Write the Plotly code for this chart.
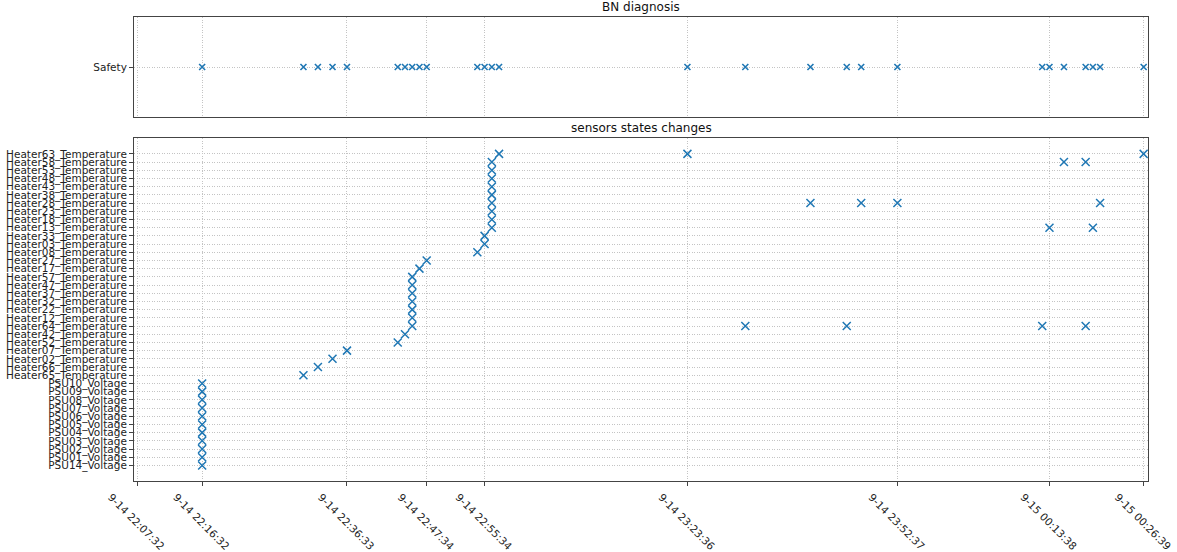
import plotly.graph_objects as go
from plotly.subplots import make_subplots

# ---------------- data ----------------
categories = [
    "PSU14_Voltage", "PSU01_Voltage", "PSU02_Voltage", "PSU03_Voltage", "PSU04_Voltage",
    "PSU05_Voltage", "PSU06_Voltage", "PSU07_Voltage", "PSU08_Voltage", "PSU09_Voltage",
    "PSU10_Voltage", "Heater65_Temperature", "Heater66_Temperature", "Heater02_Temperature",
    "Heater07_Temperature", "Heater52_Temperature", "Heater42_Temperature", "Heater64_Temperature",
    "Heater12_Temperature", "Heater22_Temperature", "Heater32_Temperature", "Heater37_Temperature",
    "Heater47_Temperature", "Heater57_Temperature", "Heater17_Temperature", "Heater27_Temperature",
    "Heater08_Temperature", "Heater03_Temperature", "Heater33_Temperature", "Heater13_Temperature",
    "Heater18_Temperature", "Heater23_Temperature", "Heater28_Temperature", "Heater38_Temperature",
    "Heater43_Temperature", "Heater48_Temperature", "Heater53_Temperature", "Heater58_Temperature",
    "Heater63_Temperature",
]

event_sensor = [
    "PSU14_Voltage", "PSU01_Voltage", "PSU02_Voltage", "PSU03_Voltage", "PSU04_Voltage",
    "PSU05_Voltage", "PSU06_Voltage", "PSU07_Voltage", "PSU08_Voltage", "PSU09_Voltage",
    "PSU10_Voltage",
    "Heater65_Temperature", "Heater66_Temperature", "Heater02_Temperature", "Heater07_Temperature",
    "Heater52_Temperature", "Heater42_Temperature",
    "Heater64_Temperature", "Heater12_Temperature", "Heater22_Temperature", "Heater32_Temperature",
    "Heater37_Temperature", "Heater47_Temperature", "Heater57_Temperature",
    "Heater17_Temperature", "Heater27_Temperature", "Heater08_Temperature",
    "Heater03_Temperature", "Heater33_Temperature",
    "Heater13_Temperature", "Heater18_Temperature", "Heater23_Temperature", "Heater28_Temperature",
    "Heater38_Temperature", "Heater43_Temperature", "Heater48_Temperature", "Heater53_Temperature",
    "Heater58_Temperature",
    "Heater63_Temperature", "Heater63_Temperature", "Heater64_Temperature", "Heater28_Temperature",
    "Heater64_Temperature", "Heater28_Temperature", "Heater28_Temperature", "Heater64_Temperature",
    "Heater13_Temperature", "Heater58_Temperature", "Heater58_Temperature", "Heater64_Temperature",
    "Heater13_Temperature", "Heater28_Temperature", "Heater63_Temperature",
]

event_time = (
    ["2021-09-14 22:16:32"] * 11
    + ["2021-09-14 22:30:32", "2021-09-14 22:32:32", "2021-09-14 22:34:33", "2021-09-14 22:36:33",
       "2021-09-14 22:43:34", "2021-09-14 22:44:34"]
    + ["2021-09-14 22:45:34"] * 7
    + ["2021-09-14 22:46:34", "2021-09-14 22:47:34", "2021-09-14 22:54:34"]
    + ["2021-09-14 22:55:34"] * 2
    + ["2021-09-14 22:56:34"] * 9
    + ["2021-09-14 22:57:34", "2021-09-14 23:23:36", "2021-09-14 23:31:36", "2021-09-14 23:40:36",
       "2021-09-14 23:45:37", "2021-09-14 23:47:37", "2021-09-14 23:52:37", "2021-09-15 00:12:38",
       "2021-09-15 00:13:38", "2021-09-15 00:15:38", "2021-09-15 00:18:38", "2021-09-15 00:18:38",
       "2021-09-15 00:19:38", "2021-09-15 00:20:38", "2021-09-15 00:26:39"]
)

diagnosis_label = ["Safety"]
diagnosis_time = [
    "2021-09-14 22:16:32", "2021-09-14 22:30:32", "2021-09-14 22:32:32", "2021-09-14 22:34:33",
    "2021-09-14 22:36:33", "2021-09-14 22:43:34", "2021-09-14 22:44:34", "2021-09-14 22:45:34",
    "2021-09-14 22:46:34", "2021-09-14 22:47:34", "2021-09-14 22:54:34", "2021-09-14 22:55:34",
    "2021-09-14 22:56:34", "2021-09-14 22:57:34", "2021-09-14 23:23:36", "2021-09-14 23:31:36",
    "2021-09-14 23:40:36", "2021-09-14 23:45:37", "2021-09-14 23:47:37", "2021-09-14 23:52:37",
    "2021-09-15 00:12:38", "2021-09-15 00:13:38", "2021-09-15 00:15:38", "2021-09-15 00:18:38",
    "2021-09-15 00:19:38", "2021-09-15 00:20:38", "2021-09-15 00:26:39",
]

tick_times = [
    "2021-09-14 22:07:32", "2021-09-14 22:16:32", "2021-09-14 22:36:33", "2021-09-14 22:47:34",
    "2021-09-14 22:55:34", "2021-09-14 23:23:36", "2021-09-14 23:52:37", "2021-09-15 00:13:38",
    "2021-09-15 00:26:39",
]
tick_labels = [
    "9-14 22:07:32", "9-14 22:16:32", "9-14 22:36:33", "9-14 22:47:34", "9-14 22:55:34",
    "9-14 23:23:36", "9-14 23:52:37", "9-15 00:13:38", "9-15 00:26:39",
]

x_range = ["2021-09-14 22:07:07", "2021-09-15 00:27:15"]

# ---------------- figure ----------------
BLUE = "#1f77b4"
FONT = "DejaVu Sans"
SPINE = "#444444"
TXT = "#222222"

fig = make_subplots(rows=2, cols=1, shared_xaxes=True, vertical_spacing=0.04)

fig.add_trace(go.Scatter(
    x=diagnosis_time, y=diagnosis_label * len(diagnosis_time), mode="markers",
    marker=dict(symbol="x-thin", size=6, color=BLUE, line=dict(width=1.6, color=BLUE)),
    showlegend=False, hoverinfo="x+y"), row=1, col=1)

fig.add_trace(go.Scatter(
    x=event_time, y=event_sensor, mode="markers",
    marker=dict(symbol="x-thin", size=8, color=BLUE, line=dict(width=1.5, color=BLUE)),
    showlegend=False, hoverinfo="x+y"), row=2, col=1)

grid_common = dict(showgrid=True, gridcolor="#c4c4c4", gridwidth=0.8, griddash="1px,1.5px",
                   showline=True, linecolor=SPINE, linewidth=1, mirror=True, zeroline=False,
                   automargin=False)

fig.update_xaxes(type="date", range=x_range, tickmode="array", tickvals=tick_times,
                 **grid_common)
fig.update_xaxes(showticklabels=False, ticks="", row=1, col=1)
fig.update_xaxes(ticktext=tick_labels, ticks="outside", ticklen=4, tickcolor=SPINE,
                 tickangle=45, ticklabelshift=-26, ticklabelstandoff=1,
                 tickfont=dict(family=FONT, size=10.5, color=TXT), row=2, col=1)

fig.update_yaxes(type="category", categoryorder="array", categoryarray=diagnosis_label,
                 tickmode="array", tickvals=diagnosis_label, ticktext=diagnosis_label,
                 range=[-1, 1], ticks="outside", ticklen=4, tickcolor=SPINE,
                 tickfont=dict(family=FONT, size=10.5, color=TXT),
                 domain=[0.7845, 1.0], **grid_common, row=1, col=1)
fig.update_yaxes(type="category", categoryorder="array", categoryarray=categories,
                 tickmode="array", tickvals=categories, ticktext=categories,
                 range=[-1.9, len(categories) - 1 + 1.9], ticks="outside", ticklen=4,
                 tickcolor=SPINE, tickfont=dict(family=FONT, size=10.5, color=TXT),
                 domain=[0.0, 0.7386], **grid_common, row=2, col=1)

fig.add_annotation(text="BN diagnosis", xref="paper", yref="paper", x=0.5, y=1.0,
                   yshift=10, xanchor="center", yanchor="middle", showarrow=False,
                   font=dict(family=FONT, size=12, color="#111"))
fig.add_annotation(text="sensors states changes", xref="paper", yref="paper", x=0.5,
                   y=0.7386, yshift=10, xanchor="center", yanchor="middle", showarrow=False,
                   font=dict(family=FONT, size=12, color="#111"))

fig.update_layout(
    width=1177, height=552,
    margin=dict(l=134, r=29, t=17, b=71),
    paper_bgcolor="white", plot_bgcolor="white",
    font=dict(family=FONT, color=TXT),
)

# remove the default page margin so the figure fills the 1177x552 window exactly
fig.write_html(
    "out.html",
    config={"displayModeBar": False},
    post_script="document.body.style.margin='0';document.body.style.overflow='hidden';",
)
